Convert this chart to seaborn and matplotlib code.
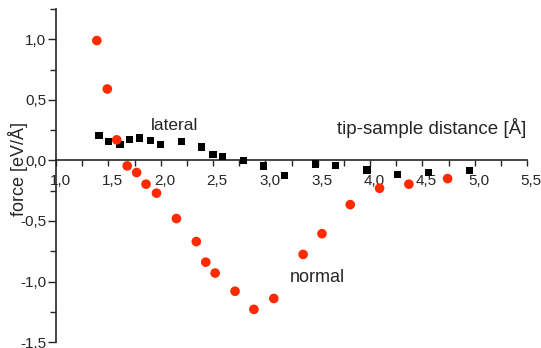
import matplotlib
matplotlib.use("Agg")
import matplotlib.pyplot as plt
from matplotlib.ticker import FuncFormatter, MultipleLocator
from matplotlib.transforms import ScaledTranslation
import seaborn as sns
import pandas as pd

# data
normal_x = [1.39, 1.49, 1.58, 1.68, 1.77, 1.86, 1.96, 2.15, 2.34, 2.43, 2.52,
            2.71, 2.89, 3.08, 3.36, 3.54, 3.81, 4.09, 4.37, 4.74]
normal_y = [0.99, 0.59, 0.17, -0.045, -0.10, -0.196, -0.27, -0.48, -0.67, -0.84, -0.93,
            -1.08, -1.23, -1.14, -0.776, -0.605, -0.365, -0.23, -0.196, -0.15]

lateral_x = [1.41, 1.50, 1.61, 1.70, 1.80, 1.90, 2.00, 2.20, 2.39, 2.50, 2.59,
             2.79, 2.98, 3.18, 3.48, 3.67, 3.97, 4.26, 4.56, 4.95]
lateral_y = [0.204, 0.157, 0.13, 0.174, 0.185, 0.166, 0.133, 0.157, 0.11, 0.05, 0.033,
             0.0, -0.047, -0.127, -0.03, -0.042, -0.078, -0.116, -0.10, -0.083]

normal = pd.DataFrame({"x": normal_x, "y": normal_y})
lateral = pd.DataFrame({"x": lateral_x, "y": lateral_y})

sns.set_style("ticks")
plt.rcParams["font.family"] = ["Liberation Sans", "DejaVu Sans"]
plt.rcParams["axes.unicode_minus"] = False

fig = plt.figure(figsize=(5.41, 3.48), dpi=100)
ax = fig.add_axes([0.1035, 0.017, 0.871, 0.957])

sns.scatterplot(data=lateral, x="x", y="y", marker="s", s=28, color="black",
                edgecolor="none", ax=ax, zorder=3)
sns.scatterplot(data=normal, x="x", y="y", marker="o", s=48, color="#ff2a00",
                edgecolor="none", ax=ax, zorder=4)

ax.set_xlim(1.0, 5.5)
ax.set_ylim(-1.5, 1.25)

# x axis crosses at y = 0
ax.spines["bottom"].set_position(("data", 0))
ax.spines["top"].set_visible(False)
ax.spines["right"].set_visible(False)
ax.spines["left"].set_linewidth(1.2)
ax.spines["bottom"].set_linewidth(1.2)

comma = FuncFormatter(lambda v, pos: f"{v:.1f}".replace(".", ","))
ax.xaxis.set_major_locator(MultipleLocator(0.5))
ax.xaxis.set_minor_locator(MultipleLocator(0.25))
ax.yaxis.set_major_locator(MultipleLocator(0.5))
ax.yaxis.set_minor_locator(MultipleLocator(0.25))
ax.xaxis.set_major_formatter(comma)
ax.yaxis.set_major_formatter(comma)
ax.tick_params(axis="x", which="both", length=4, width=1, direction="out",
               labelsize=11, pad=6)
ax.tick_params(axis="y", which="major", length=6, width=1, labelsize=11, pad=1)
ax.tick_params(axis="y", which="minor", length=4, width=1)
ax.set_yticks([-1.5, -1.0, -0.5, 0.0, 0.5, 1.0])

# x tick labels sit a little right of their ticks
shift = ScaledTranslation(3 / 72, 0, fig.dpi_scale_trans)
for t in ax.xaxis.get_major_ticks():
    t.label1.set_transform(t.label1.get_transform() + shift)

ax.set_xlabel("tip-sample distance [Å]", fontsize=13.5, ha="right", va="center")
ax.xaxis.set_label_coords(0.999, 0.643)
ax.set_ylabel("force [eV/Å]", fontsize=13)
ax.yaxis.set_label_coords(-0.059, 0.52)

ax.text(2.13, 0.29, "lateral", fontsize=12.5, ha="center", va="center")
ax.text(3.50, -0.97, "normal", fontsize=13, ha="center", va="center")

fig.savefig("out.png", dpi=100)
